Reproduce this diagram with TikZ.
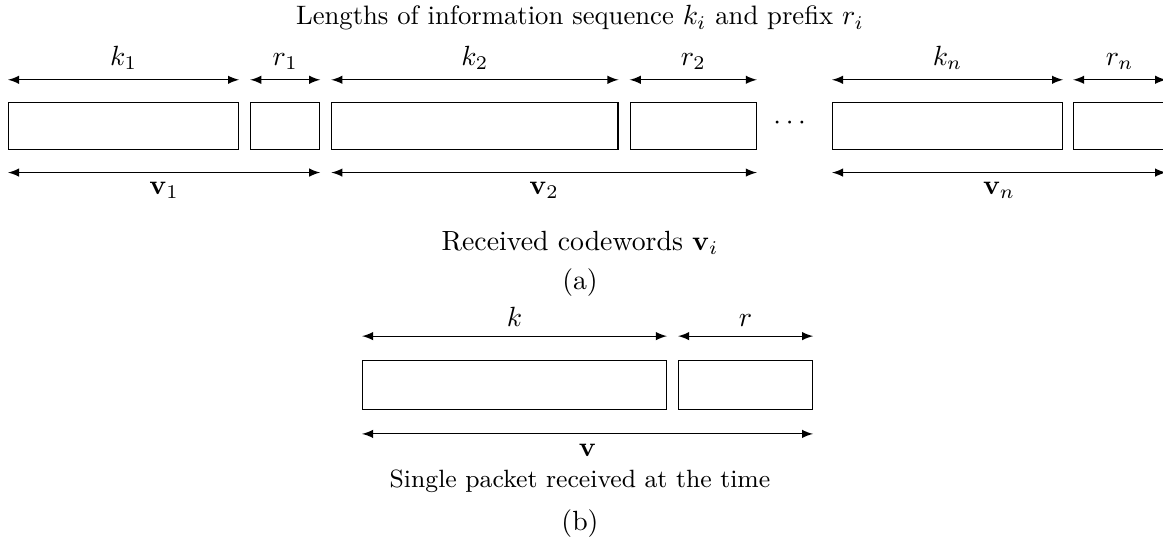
\documentclass[tikz,border=0pt]{standalone}
\usepackage{amsmath}
\usepackage{tikz}
\usetikzlibrary{positioning}

\tikzset{
  seg/.style={draw, rectangle, inner sep=0pt, minimum height=17pt},
  dim/.style={latex-latex},
}

\begin{document}
\begin{tikzpicture}[x=0.36pt, y=-0.36pt]
\useasboundingbox (0,0) rectangle (1163,546);
\clip (0,0) rectangle (1163,546);

% (a) sequence of received codewords
\node[font=\fontsize{9.6}{11}\selectfont] (title) at (580,18) {Lengths of information sequence $k_i$ and prefix $r_i$};
\node[seg, minimum width=82.8pt, anchor=north west] (k1) at (8,102) {};
\node[seg, minimum width=24.8pt, right=4pt of k1] (r1) {};
\node[seg, minimum width=103pt, right=4pt of r1] (k2) {};
\node[seg, minimum width=45.4pt, right=4pt of k2] (r2) {};
\node (dots) at (792,123) {$\cdots$};
\node[seg, minimum width=82.8pt, anchor=north west] (kn) at (832,102) {};
\node[seg, minimum width=33.1pt, right=3.6pt of kn] (rn) {};

\draw[dim] ([yshift=8pt]k1.north west) -- node[above] {$k_1$} ([yshift=8pt]k1.north east);
\draw[dim] ([yshift=8pt]r1.north west) -- node[above] {$r_1$} ([yshift=8pt]r1.north east);
\draw[dim] ([yshift=8pt]k2.north west) -- node[above] {$k_2$} ([yshift=8pt]k2.north east);
\draw[dim] ([yshift=8pt]r2.north west) -- node[above] {$r_2$} ([yshift=8pt]r2.north east);
\draw[dim] ([yshift=8pt]kn.north west) -- node[above] {$k_n$} ([yshift=8pt]kn.north east);
\draw[dim] ([yshift=8pt]rn.north west) -- node[above] {$r_n$} ([yshift=8pt]rn.north east);

\draw[dim] ([yshift=-8pt]k1.south west) -- node[below] {$\mathbf{v}_1$} ([yshift=-8pt]r1.south east);
\draw[dim] ([yshift=-8pt]k2.south west) -- node[below] {$\mathbf{v}_2$} ([yshift=-8pt]r2.south east);
\draw[dim] ([yshift=-8pt]kn.south west) -- node[below] {$\mathbf{v}_n$} ([yshift=-8pt]rn.south east);

\node (capa) at (580,243) {Received codewords $\mathbf{v}_i$};
\node (laba) at (580,283) {(a)};

% (b) single packet
\node[seg, minimum width=109.4pt, minimum height=17.6pt, anchor=north west] (k) at (362,360) {};
\node[seg, minimum width=48.2pt, minimum height=17.6pt, right=4pt of k] (r) {};
\draw[dim] ([yshift=8.6pt]k.north west) -- node[above] {$k$} ([yshift=8.6pt]k.north east);
\draw[dim] ([yshift=8.6pt]r.north west) -- node[above] {$r$} ([yshift=8.6pt]r.north east);
\draw[dim] ([yshift=-8.6pt]k.south west) -- node[below] {$\mathbf{v}$} ([yshift=-8.6pt]r.south east);

\node[font=\small] (capb) at (580,481) {Single packet received at the time};
\node (labb) at (580,524) {(b)};
\end{tikzpicture}
\end{document}
